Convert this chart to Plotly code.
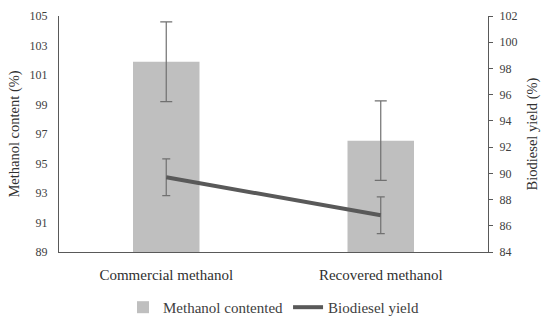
import plotly.graph_objects as go

categories = ["Commercial methanol", "Recovered methanol"]
methanol_content = [101.9, 96.55]
methanol_err = [2.7, 2.7]
biodiesel_yield = [89.7, 86.8]
biodiesel_err = [1.4, 1.4]

left_ticks = [89, 91, 93, 95, 97, 99, 101, 103, 105]
right_ticks = [84, 86, 88, 90, 92, 94, 96, 98, 100, 102]

font_family = "Liberation Serif, DejaVu Serif, serif"

fig = go.Figure()
fig.add_trace(go.Bar(
    x=categories, y=methanol_content, name="Methanol contented",
    marker=dict(color="#bfbfbf", line=dict(width=0)),
    width=0.31,
    error_y=dict(type="data", array=methanol_err, color="#707070", thickness=1.2, width=6),
    yaxis="y",
))
fig.add_trace(go.Scatter(
    x=categories, y=biodiesel_yield, name="Biodiesel yield",
    mode="lines", line=dict(color="#595959", width=4),
    error_y=dict(type="data", array=biodiesel_err, color="#707070", thickness=1.2, width=4),
    yaxis="y2",
))

fig.update_layout(
    width=550, height=336,
    margin=dict(l=59, r=62, t=16, b=70),
    paper_bgcolor="white", plot_bgcolor="white",
    font=dict(family=font_family, color="#404040"),
    showlegend=True,
    legend=dict(orientation="h", x=0.5, xanchor="center", y=-0.165, yanchor="top",
                font=dict(size=15, color="#404040"), traceorder="normal"),
    xaxis=dict(range=[-0.5, 1.5], showline=True, linecolor="#595959", linewidth=1.2,
               ticks="", tickfont=dict(size=15, color="#303030"), showgrid=False,
               automargin=False, ticklabelstandoff=9),
    yaxis=dict(range=[89, 105], tickvals=left_ticks, showline=True, linecolor="#595959",
               linewidth=1.2, ticks="", showgrid=False, zeroline=False,
               tickfont=dict(size=12, color="#404040"), automargin=False,
               ticklabelstandoff=8,
               title=dict(text="Methanol content (%)", font=dict(size=14.5, color="#303030"), standoff=6)),
    yaxis2=dict(range=[84, 102], tickvals=right_ticks, overlaying="y", side="right",
                showline=True, linecolor="#595959", linewidth=1.2, ticks="outside",
                ticklen=4, tickcolor="#595959", showgrid=False, zeroline=False,
                tickfont=dict(size=12, color="#404040"), automargin=False,
                ticklabelstandoff=4,
                title=dict(text="Biodiesel yield (%)", font=dict(size=14.5, color="#303030"), standoff=10)),
)

# remove the default 8px page margin so the 550x336 figure fills the window exactly
fig.write_html("out.html", config={"displayModeBar": False},
               post_script="document.body.style.margin='0';document.body.style.padding='0';")
